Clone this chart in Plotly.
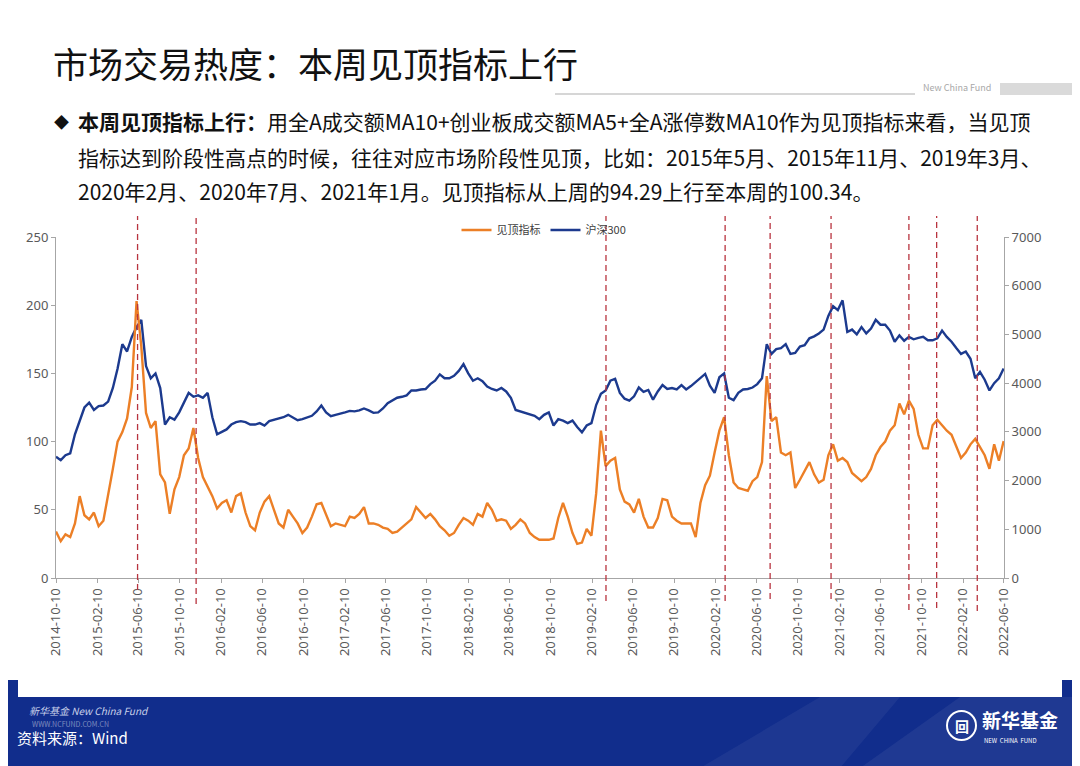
import pandas as pd
import plotly.graph_objects as go

# plot area in page pixels (the html body adds an 8px margin round the figure)
BODY = 8
PLOT_L, PLOT_R, PLOT_T, PLOT_B = 56, 1004, 237, 578

# sample every two weeks starting 2014-10-10
dates = pd.date_range("2014-10-10", periods=201, freq="14D")

peakIndicator = [
    34, 27, 32, 30, 40, 60, 46, 43, 48, 38,
    42, 60, 80, 100, 107, 117, 140, 203, 170, 121,
    110, 115, 76, 70, 47, 65, 74, 90, 95, 110,
    88, 74, 67, 60, 51, 55, 57, 48, 60, 62,
    48, 38, 35, 48, 56, 60, 50, 40, 37, 50,
    45, 40, 33, 37, 45, 54, 55, 47, 38, 40,
    39, 38, 45, 44, 47, 52, 40, 40, 39, 37,
    36, 33, 34, 37, 40, 43, 52, 48, 44, 47,
    43, 38, 35, 31, 33, 39, 44, 42, 39, 47,
    45, 55, 50, 42, 43, 42, 36, 39, 43, 40,
    33, 30, 28, 28, 28, 29, 44, 55, 45, 33,
    25, 26, 36, 31, 62, 108, 82, 86, 88, 65,
    56, 54, 48, 58, 45, 37, 37, 44, 58, 57,
    45, 42, 40, 40, 40, 30, 55, 68, 75, 92,
    108, 118, 90, 70, 66, 65, 64, 71, 74, 85,
    148, 115, 118, 92, 90, 92, 66, 72, 78, 85,
    76, 70, 72, 90, 98, 86, 88, 85, 77, 74,
    71, 74, 80, 90, 96, 100, 108, 112, 128, 120,
    130, 124, 105, 95, 95, 112, 116, 112, 108, 105,
    96, 88, 92, 98, 102, 96, 90, 80, 98, 86,
    100.34,
]

hs300 = [
    2490, 2420, 2520, 2560, 2950, 3250, 3500, 3600, 3450, 3530,
    3540, 3620, 3900, 4300, 4800, 4650, 4950, 5150, 5300, 4350,
    4100, 4200, 3900, 3150, 3300, 3250, 3400, 3600, 3800, 3720,
    3750, 3700, 3800, 3300, 2950, 3000, 3050, 3150, 3200, 3220,
    3200, 3150, 3150, 3180, 3130, 3220, 3250, 3280, 3300, 3350,
    3300, 3240, 3260, 3300, 3330, 3420, 3540, 3400, 3320, 3350,
    3370, 3400, 3430, 3420, 3440, 3480, 3440, 3390, 3400, 3480,
    3590, 3650, 3700, 3720, 3750, 3850, 3850, 3870, 3880, 3980,
    4050, 4180, 4100, 4100, 4150, 4250, 4390, 4200, 4050, 4100,
    4040, 3930, 3880, 3850, 3900, 3830, 3700, 3450, 3420, 3380,
    3350, 3330, 3260, 3350, 3400, 3130, 3260, 3230, 3180, 3230,
    3100, 2990, 3130, 3180, 3550, 3780, 3850, 4050, 4090, 3800,
    3680, 3640, 3730, 3910, 3820, 3860, 3660, 3830, 3960, 3880,
    3900, 3870, 3960, 3870, 3940, 4020, 4100, 4190, 3950, 3800,
    4120, 4200, 3700, 3650, 3800, 3870, 3880, 3910, 3980, 4100,
    4800, 4600, 4700, 4720, 4800, 4600, 4620, 4750, 4780, 4920,
    4960, 5020, 5100, 5380, 5580, 5500, 5700, 5050, 5100, 5000,
    5150, 5020, 5120, 5300, 5200, 5200, 5080, 4850, 4980, 4870,
    4950, 4900, 4930, 4950, 4880, 4880, 4920, 5080, 4950, 4850,
    4720, 4600, 4650, 4500, 4100, 4230, 4070, 3850, 4000, 4100,
    4300,
]

# market top marker dates (red dashed lines)
topDates = ["2015-06-08", "2015-11-28", "2019-03-23", "2020-03-09", "2020-07-20",
            "2021-01-16", "2021-09-03", "2021-11-24", "2022-03-24"]
topLineBottoms = [590, 604, 601, 601, 599, 599, 610, 608, 611]

tickLabels = [
    "2014-10-10", "2015-02-10", "2015-06-10", "2015-10-10", "2016-02-10", "2016-06-10",
    "2016-10-10", "2017-02-10", "2017-06-10", "2017-10-10", "2018-02-10", "2018-06-10",
    "2018-10-10", "2019-02-10", "2019-06-10", "2019-10-10", "2020-02-10", "2020-06-10",
    "2020-10-10", "2021-02-10", "2021-06-10", "2021-10-10", "2022-02-10", "2022-06-10",
]


def px(x):
    return (x - PLOT_L) / (PLOT_R - PLOT_L)


def py(y):
    return (PLOT_B - y) / (PLOT_B - PLOT_T)


FONT = "Noto Sans CJK SC"
ORANGE = "#EC7F26"
NAVY = "#1C3A8E"

fig = go.Figure()
fig.add_trace(go.Scatter(x=dates, y=hs300, name="沪深300", mode="lines",
                         line=dict(color=NAVY, width=2.4), yaxis="y", legendrank=2))
fig.add_trace(go.Scatter(x=dates, y=peakIndicator, name="见顶指标", mode="lines",
                         line=dict(color=ORANGE, width=2.4), yaxis="y2", legendrank=1))

shapes = []
# footer band and white card
shapes.append(dict(type="rect", xref="paper", yref="paper", x0=px(0), x1=px(1082),
                   y0=py(768), y1=py(680), fillcolor="#112D8C", line_width=0, layer="below"))
shapes.append(dict(type="path", xref="paper", yref="paper",
                   path=f"M {px(700)},{py(768)} L {px(820)},{py(697)} L {px(900)},{py(697)} L {px(840)},{py(768)} Z",
                   fillcolor="rgba(255,255,255,0.05)", line_width=0, layer="below"))
shapes.append(dict(type="path", xref="paper", yref="paper",
                   path=f"M {px(860)},{py(768)} L {px(960)},{py(697)} L {px(1082)},{py(697)} L {px(1082)},{py(768)} Z",
                   fillcolor="rgba(255,255,255,0.06)", line_width=0, layer="below"))
shapes.append(dict(type="rect", xref="paper", yref="paper", x0=px(18), x1=px(1062),
                   y0=py(697), y1=py(600), fillcolor="white", line_width=0, layer="below"))
# header decoration
shapes.append(dict(type="line", xref="paper", yref="paper", x0=px(555), x1=px(915),
                   y0=py(94), y1=py(94), line=dict(color="#D6D6D6", width=2)))
shapes.append(dict(type="rect", xref="paper", yref="paper", x0=px(1000), x1=px(1082),
                   y0=py(95), y1=py(83), fillcolor="#DADADA", line_width=0))
# logo circle
shapes.append(dict(type="circle", xref="paper", yref="paper", x0=px(947), x1=px(976),
                   y0=py(740), y1=py(711), line=dict(color="white", width=2)))
# red dashed top markers
for d, yb in zip(topDates, topLineBottoms):
    shapes.append(dict(type="line", xref="x", yref="paper", x0=d, x1=d,
                       y0=py(yb), y1=py(216),
                       line=dict(color="#B8343F", width=1.3, dash="6px,4px")))

annotations = [
    dict(text="市场交易热度：本周见顶指标上行", x=px(51), y=py(62), font=dict(size=35, color="#111111")),
    dict(text="◆", x=px(52), y=py(121), font=dict(size=15, color="#111111")),
    dict(text="<b>本周见顶指标上行：</b>用全A成交额MA10+创业板成交额MA5+全A涨停数MA10作为见顶指标来看，当见顶",
         x=px(76), y=py(121), font=dict(size=21, color="#111111")),
    dict(text="指标达到阶段性高点的时候，往往对应市场阶段性见顶，比如：2015年5月、2015年11月、2019年3月、",
         x=px(76), y=py(157), font=dict(size=21, color="#111111")),
    dict(text="2020年2月、2020年7月、2021年1月。见顶指标从上周的94.29上行至本周的100.34。",
         x=px(76), y=py(191), font=dict(size=21, color="#111111")),
    dict(text="New China Fund", x=px(921), y=py(88), font=dict(size=9, color="#A8A8A8")),
    dict(text="<i>新华基金 New China Fund</i>", x=px(27), y=py(710), font=dict(size=10, color="#C9D1EA")),
    dict(text="WWW.NCFUND.COM.CN", x=px(30), y=py(724), font=dict(size=7, color="rgba(255,255,255,0.45)")),
    dict(text="资料来源：Wind", x=px(15), y=py(737), font=dict(size=15, color="white")),
    dict(text="<b>回</b>", x=px(961.5), y=py(725.5), xanchor="center", font=dict(size=14, color="white")),
    dict(text="<b>新华基金</b>", x=px(980), y=py(719), font=dict(size=19, color="white")),
    dict(text="NEW  CHINA  FUND", x=px(982), y=py(740), font=dict(size=6, color="white")),
]
for a in annotations:
    a.setdefault("xanchor", "left")
    a.update(xref="paper", yref="paper", yanchor="middle", showarrow=False)

axisStyle = dict(showgrid=False, zeroline=False, showline=True, linecolor="#A6A6A6", linewidth=1,
                 ticks="outside", ticklen=4, tickcolor="#A6A6A6",
                 tickfont=dict(size=13, color="#595959", family="Noto Sans"))

fig.update_layout(
    width=1080 - BODY, height=766 - BODY,
    margin=dict(l=PLOT_L - BODY, r=1080 - PLOT_R, t=PLOT_T - BODY, b=766 - PLOT_B),
    paper_bgcolor="white", plot_bgcolor="white",
    font=dict(family=FONT, color="#333333"),
    showlegend=True,
    legend=dict(orientation="h", x=px(544), xanchor="center", y=py(230), yanchor="middle",
                font=dict(size=11, color="#404040"), bgcolor="rgba(0,0,0,0)", itemwidth=30),
    xaxis=dict(type="date", range=["2014-10-10", "2022-06-11"], tickvals=tickLabels,
               ticktext=tickLabels, tickangle=-90, **axisStyle),
    yaxis=dict(side="right", range=[0, 7000], dtick=1000, **axisStyle),
    yaxis2=dict(side="left", overlaying="y", range=[0, 250], dtick=50, **axisStyle),
    shapes=shapes,
    annotations=annotations,
)

fig.write_html("out.html")
